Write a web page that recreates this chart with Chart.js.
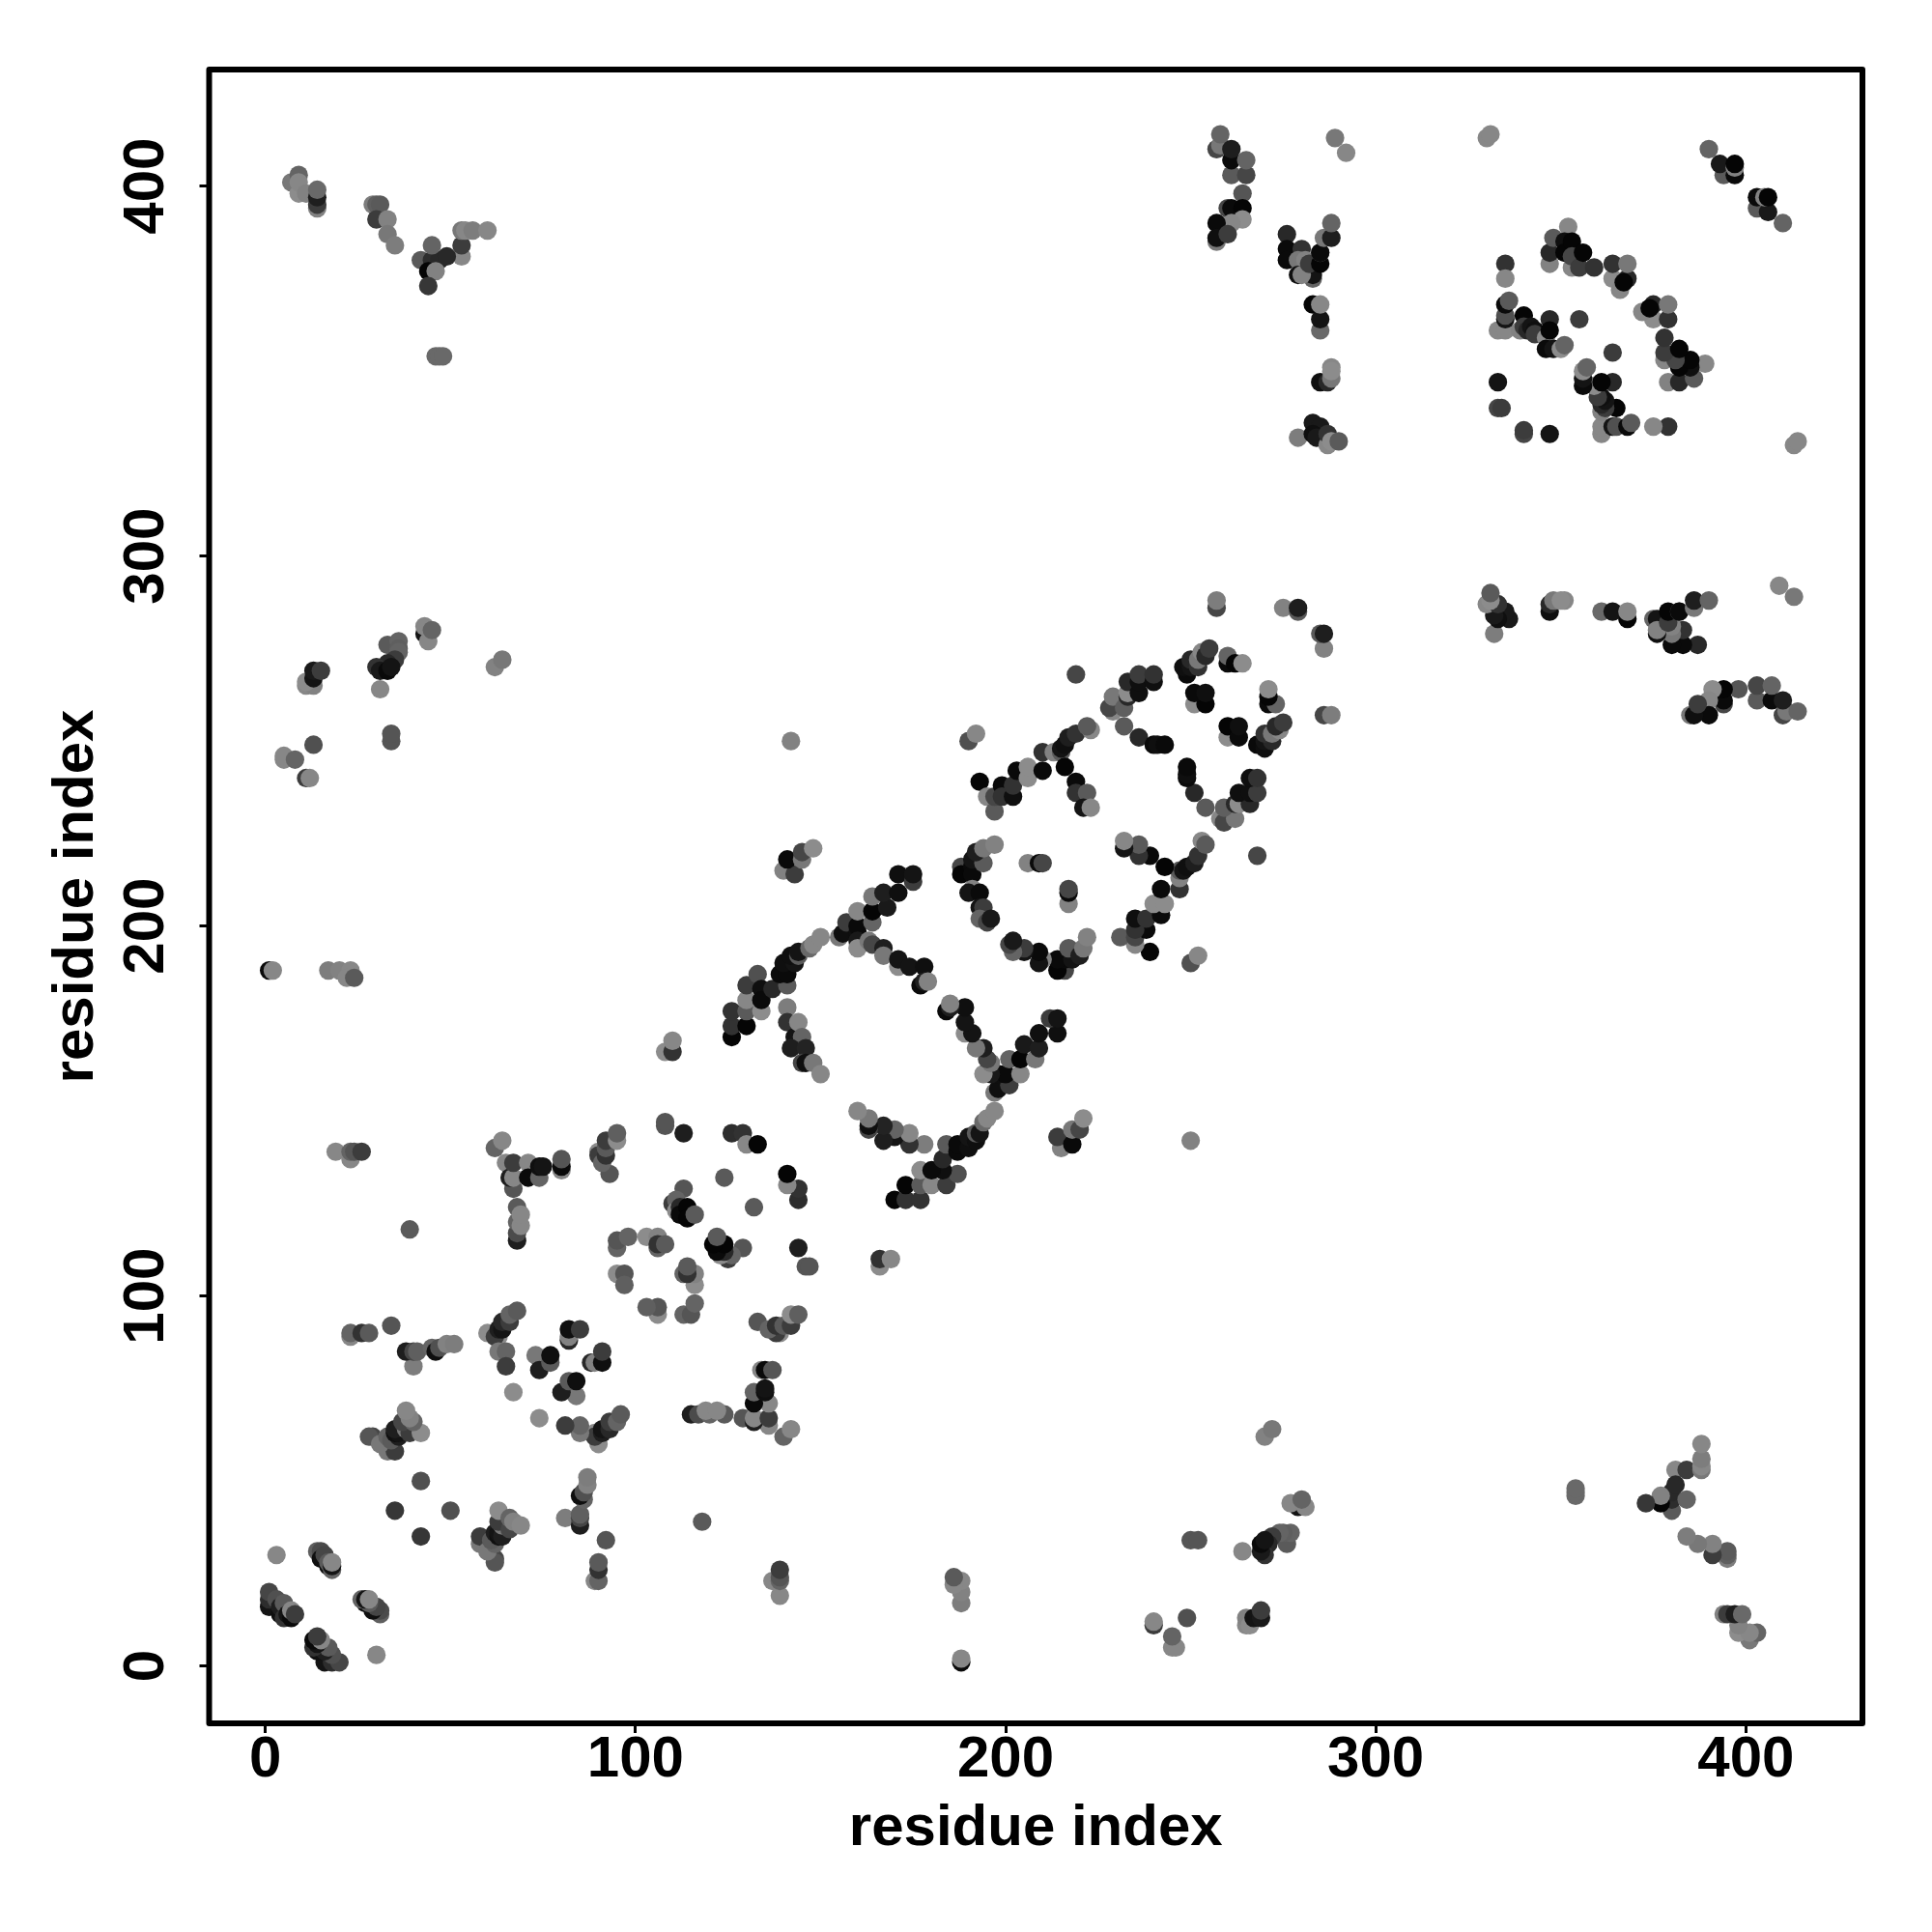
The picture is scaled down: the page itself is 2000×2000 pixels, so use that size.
<!DOCTYPE html>
<html>
<head>
<meta charset="utf-8">
<title>residue contact map</title>
<script src="https://cdn.jsdelivr.net/npm/chart.js@4"></script>
<style>
  html, body { margin: 0; padding: 0; background: #fff; }
  canvas { display: block; }
</style>
</head>
<body>
<canvas id="contactMap" width="2000" height="2000"></canvas>
<script>
// one side of the contact map, each line is one blob of points. the map is symmetric
const residueI = [
  7,9,9,9,11,14,14,14,14,
  29,30,31,30,33,33,35,
  53,42,45,47,49,44,46,44,45,53,53,54,56,60,
  46,47,48,
  43,44,43,45,
  62,64,
  31,33,36,36,36,35,33,30,31,33,34,
  11,13,11,13,13,15,
  34,34,13,5,5,8,11,12,
  1,2,17,20,23,22,24,
  19,23,23,24,26,
  62,64,65,67,66,67,67,71,71,74,74,75,
  80,80,80,
  93,90,90,91,92,92,92,95,95,
  108,108,113,126,129,130,133,
  108,110,110,
  68,68,68,69,68,69,39,
  95,95,98,103,106,106,106,108,
  95,97,97,
  23,23,26,28,34,40,38,40,41,45,46,47,49,51,
  60,63,62,63,64,64,66,66,68,63,65,65,
  73,74,77,77,82,82,82,85,
  67,
  33,35,29,28,31,33,34,36,35,36,35,38,39,37,42,40,39,38,
  3,
  1,1,1,3,4,4,5,5,6,7,7,8,
  14,15,15,16,17,18,17,18,18,
  35,42,
  113,110,111,111,112,112,114,114,116,
  124,
  126,126,126,130,130,134,130,130,133,134,134,137,141,139,141,140,143,142,144,144,147,148,150,155,
  156,157,160,160,160,160,163,164,167,167,171,171,174,178,177,178,179,
  160,164,164,164,168,167,171,171,175,175,
  140,143,141,145,145,148,
  141,141,143,144,145,142,146,145,146,148,150,
  142,190,192,
  193,195,197,197,199,199,202,202,203,206,206,210,210,213,215,216,215,216,217,219,223,222,219,219,222,221,223,
  188,188,191,191,193,191,194,192,194,197,191,190,193,193,194,193,195,196,
  206,209,210,
  229,228,229,232,232,233,233,236,240,241,243,233,236,236,236,240,240,
  249,248,250,250,252,252,253,254,255,251,254,251,254,260,260,262,264,
  257,258,258,261,261,261,265,265,
  264,260,261,264,264,261,257,257,257,260,
  289,292,
  276,276,276,280,279,281,279,283,283,280,282,285,285,285,286,288,288,
  283,285,285,285,
  285,287,288,288,288,
  279,283,285,283,284,287,287,288,290,
  257,257,275,279,279,
  219,
  330,331,
  390,394,393,397,397,397,
  335,335,
  333,335,335,335,335,336,
  339,340,340,341,342,343,343,346,347,347,346,348,350,351,355,
  347,347,348,352,351,351,353,353,353,355,356,359,
  364,364,366,368,367,368,
  333,333,334
];
const residueJ = [
  401,403,398,401,398,394,395,397,399,
  395,395,395,391,391,387,384,
  381,380,380,380,381,377,377,373,384,384,388,388,388,388,
  354,354,354,
  279,277,281,280,
  270,272,
  264,276,277,275,274,272,271,270,269,269,270,
  265,265,266,267,269,269,
  250,252,249,245,246,245,240,240,
  188,188,188,188,188,186,186,
  139,137,139,139,139,
  140,142,136,129,132,132,136,136,132,132,135,135,
  134,135,137,
  133,139,138,136,138,140,142,142,144,
  146,147,144,144,144,141,141,
  166,166,169,
  115,117,120,119,124,122,118,
  113,115,116,116,116,113,114,114,
  106,106,103,
  89,90,90,90,92,81,85,85,85,86,85,86,87,87,
  90,89,89,91,91,93,93,95,96,85,85,81,
  84,80,82,84,88,89,91,91,
  74,
  58,58,62,62,60,62,61,62,63,63,64,64,63,66,63,66,67,69,
  30,
  16,18,20,18,14,16,13,17,14,13,15,14,
  31,31,29,30,27,26,28,27,28,
  42,50,
  129,125,126,123,124,122,124,121,122,
  132,
  170,173,177,173,177,177,180,184,187,183,180,183,184,187,187,190,190,192,192,193,194,195,197,197,
  198,201,198,200,196,194,196,195,194,192,189,191,189,189,184,185,185,
  204,201,204,208,205,209,209,214,212,214,
  215,214,218,218,220,221,
  178,174,170,174,170,167,167,163,163,163,160,
  250,250,252,
  239,235,231,235,238,235,235,238,242,240,243,242,247,247,247,243,248,249,251,252,253,254,239,236,236,232,232,
  216,214,216,214,219,218,217,220,221,222,210,209,209,205,205,202,201,202,
  217,217,217,
  258,259,262,259,254,262,263,251,249,249,249,266,263,266,268,266,268,
  268,270,270,272,270,272,274,273,275,260,260,263,263,271,273,271,271,
  410,411,414,403,407,410,403,407,
  398,394,394,394,391,390,390,385,386,387,
  413,409,
  387,383,380,383,380,380,376,375,376,376,379,379,382,382,386,386,390,
  368,361,364,368,
  347,347,348,351,350,
  332,336,335,333,332,330,333,331,331,
  286,288,286,285,286,
  268,
  413,414,
  410,403,406,403,405,406,
  379,375,
  361,361,364,365,368,369,
  361,365,362,361,362,361,360,359,364,361,356,356,356,357,364,
  379,382,386,389,385,382,385,378,381,378,382,378,
  375,379,372,375,374,379,
  347,340,340
];
const shade = [
  120,100,140,135,130,130,60,30,105,
  125,95,90,60,130,120,125,
  135,90,45,40,40,5,130,55,100,60,120,135,125,135,
  105,105,105,
  20,135,135,100,
  130,120,
  135,90,100,95,100,60,40,50,25,10,20,
  135,130,140,20,25,60,
  85,85,80,135,135,100,60,135,
  10,135,125,130,135,135,90,
  135,135,100,85,60,
  100,135,135,85,30,135,60,135,10,100,15,20,
  135,10,85,
  85,140,60,100,50,90,60,140,95,
  85,85,30,45,50,135,5,
  140,50,135,
  30,75,100,135,90,135,90,
  100,85,100,140,130,100,50,90,
  140,85,95,
  135,100,50,90,85,125,30,70,95,100,15,80,130,125,
  140,140,60,30,20,40,60,100,90,120,100,60,
  120,30,90,15,40,130,15,60,
  140,
  120,60,70,85,120,100,90,30,15,20,30,120,60,70,140,100,130,135,
  135,
  20,45,70,80,15,30,50,90,20,10,135,60,
  95,75,15,70,15,100,90,20,135,
  55,80,
  85,60,100,140,40,10,5,5,90,
  90,
  5,50,50,5,90,140,135,60,80,15,10,40,90,10,10,15,20,15,90,20,105,135,135,120,
  15,60,15,10,25,140,120,70,30,120,140,20,20,15,10,30,130,
  135,100,5,120,25,30,15,15,60,20,
  130,60,10,120,70,140,
  125,50,20,135,100,30,35,70,15,120,135,
  130,80,135,
  5,135,90,70,10,50,15,50,10,140,140,10,50,130,90,5,20,15,30,50,135,90,10,50,90,20,135,
  70,5,10,10,15,20,90,30,120,130,130,20,10,20,60,100,70,25,
  130,10,70,
  135,70,120,95,90,40,140,40,10,15,10,40,15,15,60,15,50,
  10,15,20,40,50,120,135,40,60,140,5,10,15,10,100,5,140,
  70,120,100,90,10,30,70,100,
  85,70,10,5,140,135,10,120,15,60,
  120,135,
  40,10,10,50,120,130,15,100,20,130,60,5,100,10,120,30,100,
  5,105,20,135,
  15,40,120,135,140,
  125,25,25,15,25,135,50,140,90,
  70,125,130,90,30,
  70,
  135,135,
  100,90,25,10,130,5,
  50,135,
  135,135,20,80,10,90,
  130,5,60,40,20,15,60,140,40,5,10,20,140,100,60,
  130,40,90,135,15,5,5,135,70,60,5,50,
  140,50,135,40,5,120,
  20,70,60
];
const tickValues = [0, 100, 200, 300, 400];
const axisLabel = 'residue index';

// contacts go both ways so draw each pair on both sides of the diagonal
const xValues = residueI.concat(residueJ);
const yValues = residueJ.concat(residueI);
const grays = shade.concat(shade);
const points = xValues.map((x, n) => ({ x: x, y: yValues[n] }));
const colors = grays.map(g => `rgb(${g},${g},${g})`);

const fontFamily = '"Liberation Sans", Arial, sans-serif';

const framePlugin = {
  id: 'frame',
  beforeDatasetsDraw(chart) {
    const { ctx, chartArea } = chart;
    ctx.save();
    ctx.strokeStyle = '#000';
    ctx.lineWidth = 6;
    ctx.lineJoin = 'round';
    ctx.strokeRect(chartArea.left, chartArea.top, chartArea.width, chartArea.height);
    ctx.restore();
  }
};

function axisOptions(horizontal) {
  return {
    type: 'linear',
    min: horizontal ? -15.2 : -15.5,
    max: 431.5,
    afterBuildTicks(scale) {
      scale.ticks = tickValues.map(v => ({ value: v }));
    },
    afterFit(scale) {
      if (horizontal) {
        scale.height = 216;
      } else {
        scale.width = 216.5;
      }
    },
    border: { display: false },
    grid: { drawOnChartArea: false, drawTicks: true, tickLength: 10, tickWidth: 3, tickColor: '#000' },
    ticks: {
      autoSkip: false,
      color: '#000',
      font: { family: fontFamily, size: 60, weight: 'bold' },
      padding: horizontal ? -8 : 3.5,
      minRotation: horizontal ? 0 : 90,
      maxRotation: horizontal ? 0 : 90,
      crossAlign: horizontal ? 'near' : 'center'
    },
    title: {
      display: true,
      text: axisLabel,
      color: '#000',
      font: { family: fontFamily, size: 60, weight: 'bold', lineHeight: 1.2 },
      padding: horizontal ? { top: 0, bottom: 70.5 } : { top: 43, bottom: 0 }
    }
  };
}

new Chart(document.getElementById('contactMap').getContext('2d'), {
  type: 'scatter',
  data: {
    datasets: [{
      data: points,
      pointRadius: 9.6,
      pointBorderWidth: 0,
      pointBackgroundColor: colors,
      showLine: false
    }]
  },
  options: {
    responsive: false,
    animation: false,
    devicePixelRatio: 1,
    layout: { padding: { left: 0, top: 72, right: 72, bottom: 0 } },
    plugins: { legend: { display: false }, tooltip: { enabled: false } },
    scales: { x: axisOptions(true), y: axisOptions(false) }
  },
  plugins: [framePlugin]
});
</script>
</body>
</html>
